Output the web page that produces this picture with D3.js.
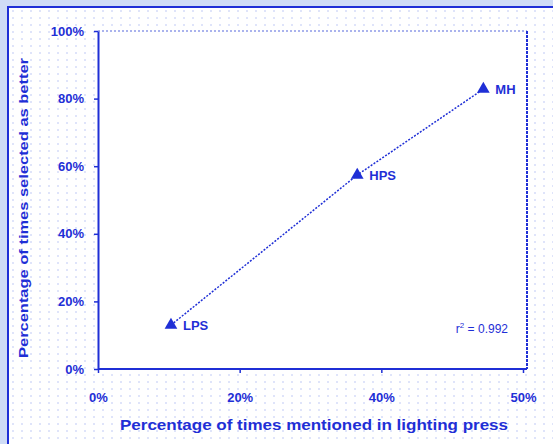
<!DOCTYPE html>
<html>
<head>
<meta charset="utf-8">
<script src="https://cdn.jsdelivr.net/npm/d3@7"></script>
<style>
  html, body { margin: 0; padding: 0; background: #cfdcf6; }
  svg { display: block; }
</style>
</head>
<body>
<svg id="chart" width="553" height="444"></svg>
<script>
// data
const lampNames = ["LPS", "HPS", "MH"];
const pressPct  = [10.3, 36.6, 54.4];   // % of times mentioned in lighting press
const betterPct = [13.0, 57.4, 82.8];   // % of times selected as better
const xTickValues = [0, 20, 40, 60];
const xTickLabels = ["0%", "20%", "40%", "50%"];
const yTickValues = [0, 20, 40, 60, 80, 100];
const rSquared = "0.992";

const blue = "#1f2fd6";
const font = "Liberation Sans, Arial, sans-serif";

const svg = d3.select("#chart");

// dotted halftone backdrop inside the frame
const defs = svg.append("defs");
const pat = defs.append("pattern")
  .attr("id", "dots").attr("width", 9).attr("height", 7)
  .attr("patternUnits", "userSpaceOnUse");
pat.append("rect").attr("width", 9).attr("height", 7).attr("fill", "#fff");
pat.append("rect").attr("x", 3).attr("y", 3).attr("width", 2).attr("height", 2)
  .attr("fill", "#dfe4fa");

svg.append("rect")
  .attr("x", 8).attr("y", 7).attr("width", 560).attr("height", 450)
  .attr("fill", "url(#dots)")
  .attr("stroke", blue).attr("stroke-width", 2);

const plot = { left: 98, top: 31, right: 527, bottom: 369 };

var xScale = d3.scaleLinear()
  .domain([0, 60])
  .range([plot.left, plot.right - 4]);

var yScale = d3.scaleLinear()
  .domain([0, 100])
  .range([plot.bottom, plot.top]);

// plot area
svg.append("rect")
  .attr("x", plot.left).attr("y", plot.top)
  .attr("width", plot.right - plot.left).attr("height", plot.bottom - plot.top)
  .attr("fill", "#fff");

// top and right edges, dotted
svg.append("line")
  .attr("x1", plot.left).attr("x2", plot.right)
  .attr("y1", plot.top).attr("y2", plot.top)
  .attr("stroke", "#8f9be8").attr("stroke-width", 1.5)
  .attr("stroke-dasharray", "2,2");
svg.append("line")
  .attr("x1", plot.right).attr("x2", plot.right)
  .attr("y1", plot.top).attr("y2", plot.bottom)
  .attr("stroke", blue).attr("stroke-width", 2)
  .attr("stroke-dasharray", "3,1");

// axes
const xAxis = svg.append("g")
  .attr("transform", `translate(0,${plot.bottom})`)
  .call(d3.axisBottom(xScale).tickValues(xTickValues)
    .tickFormat((d, i) => xTickLabels[i]).tickSize(4).tickSizeOuter(0));
xAxis.select(".domain").attr("d", `M${plot.left},0H${plot.right}`)
  .attr("stroke", blue).attr("stroke-width", 2);
xAxis.selectAll(".tick line").attr("stroke", blue).attr("stroke-width", 1.5);
xAxis.selectAll("text")
  .attr("y", 24)
  .attr("fill", blue)
  .style("font-family", font)
  .style("font-weight", "bold")
  .style("font-size", "13px");

const yAxis = svg.append("g")
  .attr("transform", `translate(${plot.left},0)`)
  .call(d3.axisLeft(yScale).tickValues(yTickValues)
    .tickFormat(d => d + "%").tickSize(4).tickSizeOuter(0));
yAxis.select(".domain").attr("stroke", blue).attr("stroke-width", 2);
yAxis.selectAll(".tick line").attr("stroke", blue).attr("stroke-width", 1.5);
yAxis.selectAll("text")
  .attr("x", -14)
  .attr("fill", blue)
  .style("font-family", font)
  .style("font-weight", "bold")
  .style("font-size", "13px");

// axis titles
svg.append("text")
  .attr("x", 314).attr("y", 430)
  .attr("text-anchor", "middle")
  .attr("textLength", 388)
  .attr("lengthAdjust", "spacingAndGlyphs")
  .attr("fill", blue)
  .style("font-family", font)
  .style("font-weight", "bold")
  .style("font-size", "15px")
  .text("Percentage of times mentioned in lighting press");

svg.append("text")
  .attr("transform", `translate(28,208) rotate(-90)`)
  .attr("text-anchor", "middle")
  .attr("textLength", 300)
  .attr("lengthAdjust", "spacingAndGlyphs")
  .attr("fill", blue)
  .style("font-family", font)
  .style("font-weight", "bold")
  .style("font-size", "13px")
  .text("Percentage of times selected as better");

// points + line
const points = lampNames.map((n, i) => ({ name: n, x: pressPct[i], y: betterPct[i] }));

svg.append("path")
  .datum(points)
  .attr("fill", "none")
  .attr("stroke", blue)
  .attr("stroke-width", 1.5)
  .attr("stroke-dasharray", "2,1.5")
  .attr("d", d3.line().x(d => xScale(d.x)).y(d => yScale(d.y)));

svg.selectAll("path.marker")
  .data(points)
  .join("path")
    .attr("class", "marker")
    .attr("transform", d => `translate(${xScale(d.x)},${yScale(d.y)})`)
    .attr("d", d3.symbol().type(d3.symbolTriangle).size(70))
    .attr("fill", blue);

svg.selectAll("text.ptlabel")
  .data(points)
  .join("text")
    .attr("class", "ptlabel")
    .attr("x", d => xScale(d.x) + 12)
    .attr("y", d => yScale(d.y) + 5)
    .attr("fill", blue)
    .style("font-family", font)
    .style("font-weight", "bold")
    .style("font-size", "13px")
    .text(d => d.name);

// r squared
const rt = svg.append("text")
  .attr("x", 508).attr("y", 333)
  .attr("text-anchor", "end")
  .attr("fill", blue)
  .style("font-family", font)
  .style("font-size", "12px");
rt.append("tspan").text("r");
rt.append("tspan").attr("dy", -5).style("font-size", "8px").text("2");
rt.append("tspan").attr("dy", 5).text(" = " + rSquared);
</script>
</body>
</html>
